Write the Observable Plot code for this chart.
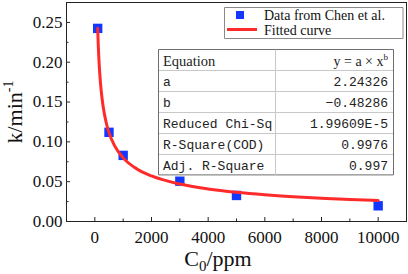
<!DOCTYPE html>
<html><head><meta charset="utf-8">
<script src="https://cdn.jsdelivr.net/npm/d3@7"></script>
<script src="https://cdn.jsdelivr.net/npm/@observablehq/plot@0.6"></script>
<style>body{margin:0;background:#fff} svg{display:block}</style>
</head><body><div id="chart"></div>
<script>
// Data
const concentration = [100, 500, 1000, 3000, 5000, 10000];
const rateConstant = [0.2425, 0.112, 0.083, 0.0506, 0.0327, 0.0197];
const fitX = [100, 120, 150, 200, 250, 300, 400, 500, 700, 1000, 1500, 2000, 3000, 4000, 5000, 6000, 7000, 8000, 9000, 10000];
const fitY = [0.2427, 0.2223, 0.1996, 0.1737, 0.1560, 0.1428, 0.1243, 0.1116, 0.0949, 0.0799, 0.0657, 0.0572, 0.0470, 0.0409, 0.0367, 0.0336, 0.0312, 0.0293, 0.0276, 0.0263];
const xTicks = [0, 2000, 4000, 6000, 8000, 10000];
const xMinorTicks = [1000, 3000, 5000, 7000, 9000];
const yTicks = [0, 0.05, 0.10, 0.15, 0.20, 0.25];
const yMinorTicks = [0.025, 0.075, 0.125, 0.175, 0.225];
const legendLabels = ["Data from Chen et al.", "Fitted curve"];
const tableLabels = ["Equation", "a", "b", "Reduced Chi-Sq", "R-Square(COD)", "Adj. R-Square"];
const tableValues = ["y = a \u00d7 x", "2.24326", "\u22120.48286", "1.99609E-5", "0.9976", "0.997"];

const points = concentration.map((c, i) => ({c, k: rateConstant[i]}));
const fit = fitX.map((c, i) => ({c, k: fitY[i]}));

const W = 408, H = 274;
const mL = 66, mR = 2, mT = 2, mB = 53;
const innerH = H - mT - mB, innerW = W - mL - mR;
const blue = "#1238ff", red = "#ff2b2b";

const plot = Plot.plot({
  width: W, height: H,
  marginLeft: mL, marginRight: mR, marginTop: mT, marginBottom: mB,
  style: {fontFamily: "'Liberation Serif', serif", fontSize: "17px", color: "#111", background: "#fff"},
  x: {domain: [-1000, 11000]},
  y: {domain: [0, 0.275]},
  marks: [
    Plot.tickX(xTicks, {x: d => d, insetTop: innerH - 4, stroke: "#222"}),
    Plot.tickX(xMinorTicks, {x: d => d, insetTop: innerH - 2.5, stroke: "#222"}),
    Plot.tickY(yTicks, {y: d => d, insetRight: innerW - 4, stroke: "#222"}),
    Plot.tickY(yMinorTicks, {y: d => d, insetRight: innerW - 2.5, stroke: "#222"}),
    Plot.axisX({ticks: xTicks, tickSize: 0, tickPadding: 9, label: null, tickFormat: d3.format("d"), fontSize: 17}),
    Plot.axisY({ticks: yTicks, tickSize: 0, tickPadding: 4, label: null, tickFormat: d3.format(".2f"), fontSize: 17}),
    Plot.dot(points, {x: "c", y: "k", symbol: "square", r: 5.3, fill: blue}),
    Plot.line(fit, {x: "c", y: "k", stroke: red, strokeWidth: 3, curve: "monotone-x"}),
    Plot.frame({stroke: "#222"})
  ]
});
document.getElementById("chart").append(plot);

const svg = d3.select(plot);
function box(g, x0, y0, x1, y1, stroke) {
  g.append("path")
    .attr("d", `M${x0},${y0}H${x1}V${y1}H${x0}Z`)
    .attr("style", `fill:#ffffff;stroke:${stroke};stroke-width:1`);
}
// Axis titles
const yt = svg.append("text")
  .attr("transform", "translate(22,112) rotate(-90)")
  .attr("text-anchor", "middle")
  .attr("font-family", "'Liberation Serif', serif")
  .attr("font-size", 22).attr("fill", "#111");
yt.append("tspan").text("k/min");
yt.append("tspan").attr("font-size", 14).attr("dy", -9).text("-1");

const xt = svg.append("text")
  .attr("x", 218).attr("y", 266)
  .attr("text-anchor", "middle")
  .attr("font-family", "'Liberation Serif', serif")
  .attr("font-size", 22).attr("fill", "#111");
xt.append("tspan").text("C");
xt.append("tspan").attr("font-size", 15).attr("dy", 5).text("0");
xt.append("tspan").attr("dy", -5).text("/ppm");

// Legend
const lg = svg.append("g").attr("font-family", "'Liberation Serif', serif").attr("font-size", 14).attr("fill", "#111").attr("text-anchor", "start");
box(lg, 224.5, 7.5, 403, 38.5, "#8a8a8a");
lg.append("path").attr("d", "M236,11h8v8h-8Z").attr("style", `fill:${blue};stroke:none`);
lg.append("line").attr("x1", 227).attr("x2", 257).attr("y1", 29.5).attr("y2", 29.5)
  .attr("stroke", red).attr("stroke-width", 3);
lg.append("text").attr("x", 264).attr("y", 19.5).attr("text-anchor", "start").text(legendLabels[0]);
lg.append("text").attr("x", 264).attr("y", 35).attr("text-anchor", "start").text(legendLabels[1]);

// Parameter table
const tb = svg.append("g");
const tx0 = 158.5, tx1 = 393.5, tdiv = 275.5, ty0 = 49.5, rowH = 20.9;
box(tb, tx0, ty0, tx1, ty0 + rowH * 6, "#6d6d6d");
for (let i = 1; i < 6; i++) {
  const yy = Math.round(ty0 + rowH * i) + 0.5;
  tb.append("line").attr("x1", tx0 + 0.5).attr("x2", tx1 - 0.5).attr("y1", yy).attr("y2", yy).attr("stroke", "#c8c8c8");
}
tb.append("line").attr("x1", tdiv).attr("x2", tdiv).attr("y1", ty0).attr("y2", ty0 + rowH * 6).attr("stroke", "#c8c8c8");
tableLabels.forEach((lab, i) => {
  const base = ty0 + rowH * i + 16;
  const header = i === 0;
  tb.append("text").attr("x", 163).attr("y", base).attr("text-anchor", "start")
    .attr("font-family", header ? "'Liberation Serif', serif" : "'Liberation Mono', monospace")
    .attr("font-size", header ? 14.5 : 13).attr("fill", "#222").text(lab);
  const v = tb.append("text").attr("x", 388).attr("y", base).attr("text-anchor", "end")
    .attr("font-family", header ? "'Liberation Serif', serif" : "'Liberation Mono', monospace")
    .attr("font-size", header ? 14 : 13).attr("fill", "#222");
  v.append("tspan").text(tableValues[i]);
  if (header) v.append("tspan").attr("font-size", 9).attr("dy", -6).text("b");
});
</script>
</body></html>
